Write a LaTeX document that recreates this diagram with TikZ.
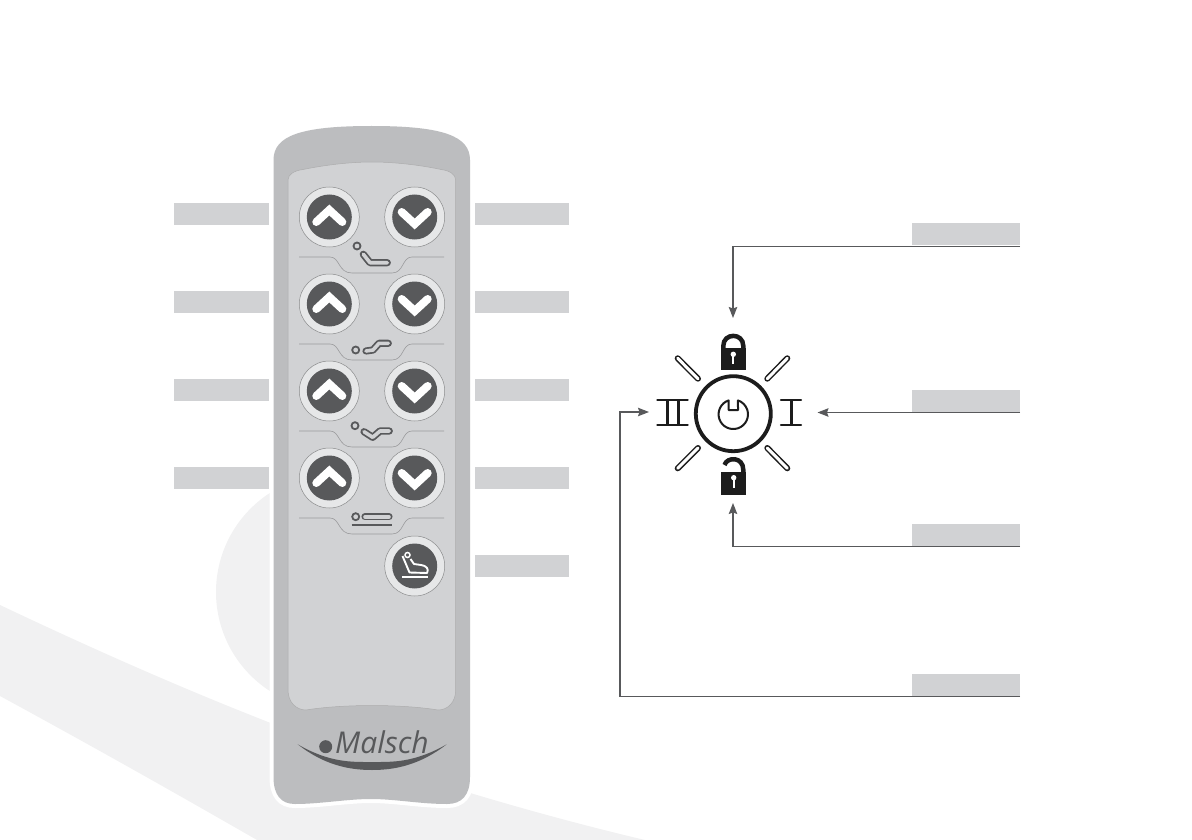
\documentclass[tikz,border=0pt]{standalone}
\usepackage{fontspec}
\setmainfont{Open Sans}
\usetikzlibrary{arrows.meta}
\definecolor{swoosh}{HTML}{F1F1F2}
\definecolor{bodygrey}{HTML}{BCBDBF}
\definecolor{panelgrey}{HTML}{D1D2D4}
\definecolor{ringgrey}{HTML}{E6E7E8}
\definecolor{keydark}{HTML}{58595B}
\definecolor{inkblack}{HTML}{1C1C1C}
\tikzset{
    labelbox/.style={rectangle, fill=panelgrey, minimum height=22pt, inner sep=0pt, outer sep=0pt},
    keyring/.style={circle, draw=keydark!70, line width=0.5pt, fill=ringgrey, minimum size=60pt, inner sep=0pt},
    keyface/.style={circle, fill=keydark, minimum size=45pt, inner sep=0pt},
    connector/.style={draw=keydark, line width=1.1pt, -{Stealth[length=11pt,width=8.5pt,inset=1.5pt]}},
    iconline/.style={draw=keydark, line width=1.8pt, double=panelgrey, double distance=3.6pt, line cap=round, line join=round},
    iconring/.style={circle, draw=keydark, line width=1.8pt, minimum size=7pt, inner sep=0pt},
    rayline/.style={draw=inkblack, line width=1.5pt, double=white, double distance=3pt, line cap=round},
    upchevron/.pic={\draw[white, line width=8pt, line cap=round, miter limit=10] (-13,5) -- (0,-7) -- (13,5);},
    downchevron/.pic={\draw[white, line width=8pt, line cap=round, miter limit=10] (-13,-5) -- (0,7) -- (13,-5);},
    sepline/.pic={\draw[keydark!60, line width=0.6pt] (-72.5,0) -- (-41.5,0) .. controls (-31.5,0) and (-33.5,16) .. (-19.5,16) -- (20.5,16) .. controls (32.5,16) and (30.5,0) .. (40.5,0) -- (72.5,0);}
}
\begin{document}
\begin{tikzpicture}[x=1pt, y=-1pt]
        \useasboundingbox (0,0) rectangle (1192,840);

        \fill[swoosh] (334,592) circle[radius=118];
        \fill[swoosh] (0,605) .. controls (150,676) and (300,740) .. (467,792) .. controls (530,811) and (590,827) .. (645,840) -- (257,840) .. controls (170,790) and (90,745) .. (0,696) -- cycle;

        \draw[white, line width=8pt, fill=white] (273.5,160) .. controls (273.5,136) and (300,126) .. (371.5,126) .. controls (443,126) and (470,136) .. (470,160) -- (470,777) .. controls (470,795) and (462,804) .. (447,804) .. controls (420,804) and (395,799) .. (371,799) .. controls (347,799) and (320,804) .. (295,804) .. controls (281,804) and (273.5,795) .. (273.5,777) -- cycle;
        \fill[bodygrey] (273.5,160) .. controls (273.5,136) and (300,126) .. (371.5,126) .. controls (443,126) and (470,136) .. (470,160) -- (470,777) .. controls (470,795) and (462,804) .. (447,804) .. controls (420,804) and (395,799) .. (371,799) .. controls (347,799) and (320,804) .. (295,804) .. controls (281,804) and (273.5,795) .. (273.5,777) -- cycle;
        \draw[keydark!50, line width=0.5pt, fill=panelgrey] (288,180) .. controls (288,174) and (295,170.5) .. (303,169.5) .. controls (325,165) and (350,162) .. (372,162) .. controls (394,162) and (420,165) .. (441,169.5) .. controls (449,170.5) and (455.7,174) .. (455.7,180) -- (455.7,690) .. controls (455.7,702) and (448,710) .. (438,710) .. controls (420,707) and (395,705.5) .. (372,705.5) .. controls (349,705.5) and (324,707) .. (306,710) .. controls (296,710) and (288,702) .. (288,690) -- cycle;

        \pic at (371.5,257) {sepline};
        \pic at (371.5,344) {sepline};
        \pic at (371.5,431) {sepline};
        \pic at (371.5,518) {sepline};

        \node[keyring] (backup) at (329.3,217) {};
        \node[keyface] at (backup) {};
        \pic at (backup) {upchevron};
        \node[keyring] (backdown) at (414.7,217) {};
        \node[keyface] at (backdown) {};
        \pic at (backdown) {downchevron};
        \node[keyring] (kneeup) at (329.3,304) {};
        \node[keyface] at (kneeup) {};
        \pic at (kneeup) {upchevron};
        \node[keyring] (kneedown) at (414.7,304) {};
        \node[keyface] at (kneedown) {};
        \pic at (kneedown) {downchevron};
        \node[keyring] (chairup) at (329.3,391) {};
        \node[keyface] at (chairup) {};
        \pic at (chairup) {upchevron};
        \node[keyring] (chairdown) at (414.7,391) {};
        \node[keyface] at (chairdown) {};
        \pic at (chairdown) {downchevron};
        \node[keyring] (liftup) at (329.3,478) {};
        \node[keyface] at (liftup) {};
        \pic at (liftup) {upchevron};
        \node[keyring] (liftdown) at (414.7,478) {};
        \node[keyface] at (liftdown) {};
        \pic at (liftdown) {downchevron};
        \node[keyring] (seatkey) at (414.7,566) {};
        \node[keyface] at (seatkey) {};

        \node[iconring] (backdot) at (357,246) {};
        \draw[iconline] (363.3,254.3) -- (370,262.7) -- (387.3,262.7);
        \node[iconring] (kneedot) at (355.7,350) {};
        \draw[iconline] (366,351) -- (373,350) -- (379,343.3) -- (388.3,343.3);
        \node[iconring] (chairdot) at (355,425.7) {};
        \draw[iconline] (364,431.7) -- (372.7,437.3) -- (380,431) -- (389.3,431);
        \node[iconring] (liftdot) at (355.7,516.7) {};
        \draw[iconline] (365,516.7) -- (389,516.7);
        \draw[keydark, line width=1.8pt] (351.7,525) -- (392.3,525);

        \node[circle, draw=white, line width=1.5pt, minimum size=5pt, inner sep=0pt] (seathead) at (407.5,555) {};
        \draw[white, line width=1.9pt, line join=round] (402.5,556) -- (409.5,572.5) -- (427,573) .. controls (429.5,569) and (426,565.5) .. (421,565) -- (414,564) -- (410.5,559);
        \draw[white, line width=1.9pt] (402.3,577.3) -- (428,577.3);

        \fill[keydark] (297.7,744.3) .. controls (330,763) and (352,762) .. (372,762) .. controls (392,762) and (414,763) .. (446.7,744.3) .. controls (420,765) and (395,770) .. (372,770) .. controls (349,770) and (324,765) .. (297.7,744.3) -- cycle;
        \node[circle, fill=keydark, minimum size=13pt, inner sep=0pt] (logodot) at (325.7,746.7) {};
        \node[anchor=base west, inner sep=0pt, text=keydark, font=\fontsize{30}{30}\selectfont\itshape] (logotext) at (335,753.3) {Malsch};

        \node[labelbox, minimum width=95pt] (leftone) at (221.5,214) {};
        \node[labelbox, minimum width=95pt] (lefttwo) at (221.5,302) {};
        \node[labelbox, minimum width=95pt] (leftthree) at (221.5,390) {};
        \node[labelbox, minimum width=95pt] (leftfour) at (221.5,478) {};
        \node[labelbox, minimum width=94pt] (rightone) at (522,214) {};
        \node[labelbox, minimum width=94pt] (righttwo) at (522,302) {};
        \node[labelbox, minimum width=94pt] (rightthree) at (522,390) {};
        \node[labelbox, minimum width=94pt] (rightfour) at (522,478) {};
        \node[labelbox, minimum width=94pt] (rightfive) at (522,566) {};

        \node[labelbox, minimum width=108pt] (lockbox) at (966,234) {};
        \node[labelbox, minimum width=108pt] (onebox) at (966,401) {};
        \node[labelbox, minimum width=108pt] (openbox) at (966,535) {};
        \node[labelbox, minimum width=108pt] (twobox) at (966,685) {};

        \node[circle, draw=inkblack, line width=3.8pt, minimum size=75pt, inner sep=0pt] (powerring) at (733.3,413.7) {};
        \draw[inkblack, line width=2pt, line join=round] (728.6,400.4) arc[start angle=-108.6, delta angle=-322.8, radius=14.7] -- (738,410) -- (728.6,410) -- cycle;

        \fill[inkblack] (720.7,347.7) rectangle (746,370);
        \draw[inkblack, line width=4.5pt] (723.3,348) -- (723.3,346) .. controls (723.3,332.5) and (743.3,332.5) .. (743.3,346) -- (743.3,348);
        \fill[white] (733.3,354.3) circle[radius=2.7];
        \draw[white, line width=2pt] (733.3,354.3) -- (733.3,364);

        \fill[inkblack] (720.7,471.7) rectangle (746,494.7);
        \draw[inkblack, line width=4.5pt] (743.3,472) -- (743.3,470) .. controls (743.3,456.5) and (727,456.5) .. (724.5,465);
        \fill[white] (733.7,477.7) circle[radius=2.7];
        \draw[white, line width=2pt] (733.7,477.7) -- (733.7,488);

        \draw[inkblack, line width=2.2pt, line cap=round] (781,400) -- (801,400);
        \draw[inkblack, line width=2.2pt, line cap=round] (781,425.3) -- (801,425.3);
        \draw[inkblack, line width=3pt] (791.3,400) -- (791.3,425.3);

        \draw[inkblack, line width=2.2pt, line cap=round] (657.3,400) -- (687.7,400);
        \draw[inkblack, line width=2.2pt, line cap=round] (657.3,425.3) -- (687.7,425.3);
        \draw[inkblack, line width=3pt] (667.7,400) -- (667.7,425.3);
        \draw[inkblack, line width=3pt] (678.3,400) -- (678.3,425.3);

        \draw[rayline] (677.7,358.3) -- (698,378.7);
        \draw[rayline] (787.3,358.3) -- (767.3,378.7);
        \draw[rayline] (698,448) -- (677.7,468.3);
        \draw[rayline] (767.3,448) -- (787.3,468.3);

        \coordinate (lockstart) at (1020,246.5);
        \coordinate (lockcorner) at (733,246.5);
        \coordinate (lockend) at (733,318);
        \coordinate (onestart) at (1020,412.5);
        \coordinate (oneend) at (817.5,412.5);
        \coordinate (openstart) at (1020,546.5);
        \coordinate (opencorner) at (733,546.5);
        \coordinate (openend) at (733,503);
        \coordinate (twostart) at (1020,696.5);
        \coordinate (twocorner) at (620,696.5);
        \coordinate (twoturn) at (620,412);
        \coordinate (twoend) at (649,412);

        \draw[connector] (lockstart) -- (lockcorner) -- (lockend);
        \draw[connector] (onestart) -- (oneend);
        \draw[connector] (openstart) -- (opencorner) -- (openend);
        \draw[connector] (twostart) -- (twocorner) -- (twoturn) -- (twoend);

    \end{tikzpicture}
\end{document}
